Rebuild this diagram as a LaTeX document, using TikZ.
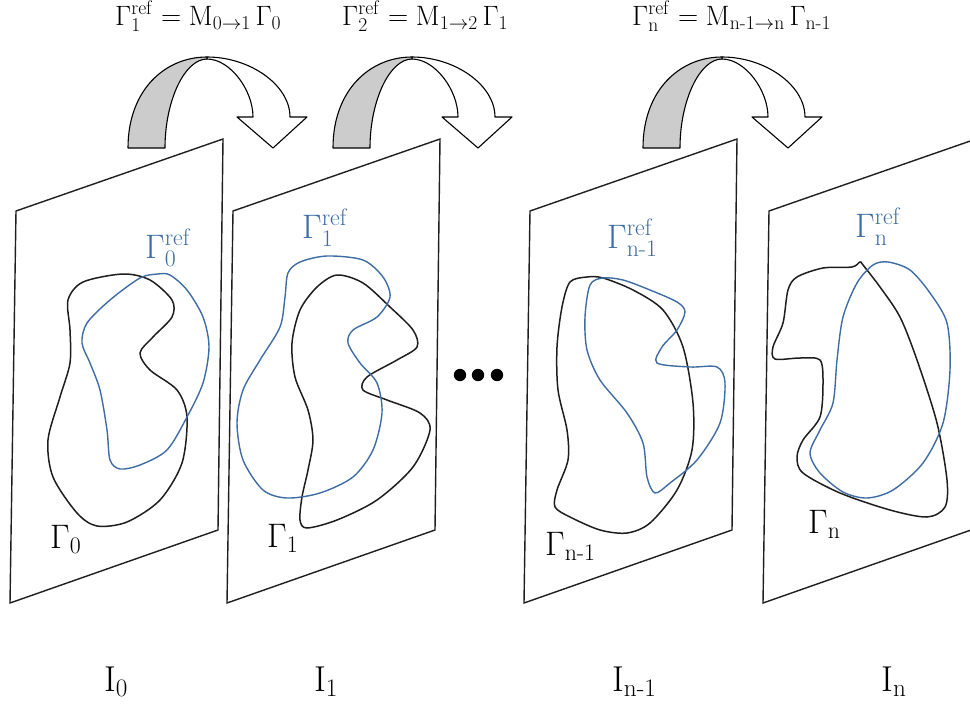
\RequirePackage{fix-cm}
\documentclass[tikz,border=0pt]{standalone}
\usepackage{amsmath}

\definecolor{azulref}{RGB}{62,108,163}
\definecolor{trazo}{RGB}{30,30,30}

\begin{document}
\begin{tikzpicture}[
        x=1pt, y=-1pt,
        plano/.style={draw=trazo, line width=1.4pt},
        contorno/.style={draw=trazo, line width=1.5pt},
        contornoref/.style={draw=azulref, line width=1.4pt},
        flechacurva/.style={draw=black, line width=1.1pt, line join=round},
        etiqueta/.style={inner sep=0pt, anchor=base west, font=\fontsize{34}{40}\selectfont},
        ecuacion/.style={inner sep=0pt, anchor=base west, font=\fontsize{28}{32}\selectfont},
        imagen/.style={inner sep=0pt, anchor=base west, font=\fontsize{36}{40}\selectfont}
    ]
        \useasboundingbox (0,0) rectangle (970,707);
        \clip (0,0) rectangle (970,707);

        % flechas curvas entre imagenes
        \foreach \dx in {0,205,515} {
            \begin{scope}[shift={(\dx,0)}]
                \draw[flechacurva, fill=white] (207,57) .. controls (250,57) and (290,85) .. (290,117)
                    -- (307,117) -- (273,148) -- (237,117) -- (253,117)
                    .. controls (253,90) and (230,59) .. (207,59) -- cycle;
                \draw[flechacurva, fill=gray!40] (128,148) .. controls (128,90) and (165,57) .. (207,57)
                    -- (207,59) .. controls (185,59) and (165,100) .. (165,148) -- cycle;
            \end{scope}
        }

        % planos de imagen
        \foreach \dx in {16,233,530,769}
            \draw[plano, shift={(\dx,0)}] (0,211) -- (207,139) -- (202,530) -- (-6,603) -- cycle;

        % contornos en I_0
        \draw[contorno] plot[smooth cycle] coordinates {(123,274) (83,282) (68,300) (70,330) (70,363) (60,397)
            (48,440) (53,477) (77,513) (97,526) (127,522) (160,500) (182,463) (187,417) (177,390) (150,370)
            (140,353) (153,337) (172,317) (172,300) (150,280)};
        \draw[contornoref] plot[smooth cycle] coordinates {(158,274) (140,278) (110,300) (87,323) (82,343) (90,363)
            (100,390) (107,430) (110,460) (120,469) (140,465) (167,450) (187,417) (203,383) (209,347) (203,317)
            (187,290) (170,275)};

        % contornos en I_1
        \draw[contorno] plot[smooth cycle] coordinates {(337,275) (317,287) (300,310) (292,343) (295,377) (308,410)
            (313,440) (308,470) (302,497) (300,520) (307,528) (337,520) (377,500) (413,467) (430,430) (420,413)
            (387,400) (363,390) (367,377) (397,360) (417,347) (413,330) (390,307) (363,283)};
        \draw[contornoref] plot[smooth cycle] coordinates {(327,256) (300,262) (288,273) (285,297) (280,327) (260,360)
            (243,390) (237,423) (243,460) (263,490) (287,498) (320,493) (353,477) (373,450) (382,413) (377,383)
            (360,363) (348,343) (353,330) (377,317) (390,297) (383,277) (363,260)};

        % contornos en I_{n-1}
        \draw[contorno] plot[smooth cycle] coordinates {(587,277) (570,282) (562,307) (557,347) (558,390) (567,430)
            (568,460) (557,490) (555,507) (570,517) (600,530) (627,533) (650,523) (677,490) (692,450) (693,403)
            (683,347) (663,310) (633,290) (603,278)};
        \draw[contornoref] plot[smooth cycle] coordinates {(603,278) (590,285) (585,317) (587,350) (600,380) (627,413)
            (643,443) (647,477) (655,493) (670,483) (697,460) (720,423) (725,383) (717,367) (690,367) (657,363)
            (662,347) (677,330) (685,312) (677,302) (650,290) (623,280)};

        % contornos en I_n
        \draw[contorno] plot[smooth cycle] coordinates {(860,262) (852,267) (823,268) (797,277) (788,290) (783,323)
            (773,347) (775,359) (800,358) (820,360) (823,383) (820,417) (803,440) (797,457) (803,473) (840,493)
            (890,510) (927,517) (945,507) (947,480) (937,423) (917,360) (900,317) (880,287) (863,265)};
        \draw[contornoref] plot[smooth cycle] coordinates {(888,262) (873,265) (857,283) (843,317) (837,360) (833,403)
            (820,430) (810,453) (820,473) (843,492) (867,498) (893,490) (923,463) (943,423) (950,370) (947,323)
            (930,293) (910,270)};

        % puntos suspensivos
        \foreach \x in {460,478,497}
            \fill (\x,375) circle[radius=6.2pt];

        % etiquetas de referencia
        \node[etiqueta, text=azulref] (ref-0) at (145,258) {$\Gamma_0^{\mathrm{ref}}$};
        \node[etiqueta, text=azulref] (ref-1) at (302,238) {$\Gamma_1^{\mathrm{ref}}$};
        \node[etiqueta, text=azulref] (ref-n1) at (607,248) {$\Gamma_{\text{n-1}}^{\mathrm{ref}}$};
        \node[etiqueta, text=azulref] (ref-n) at (855,237) {$\Gamma_{\mathrm{n}}^{\mathrm{ref}}$};

        % etiquetas de contornos
        \node[etiqueta] (gamma-0) at (50,548) {$\Gamma_0$};
        \node[etiqueta] (gamma-1) at (267,547) {$\Gamma_1$};
        \node[etiqueta] (gamma-n1) at (545,555) {$\Gamma_{\text{n-1}}$};
        \node[etiqueta] (gamma-n) at (808,533) {$\Gamma_{\mathrm{n}}$};

        % ecuaciones de propagacion
        \node[ecuacion] (eq-1) at (115,25) {$\Gamma_1^{\mathrm{ref}} = \mathrm{M}_{0\rightarrow 1}\,\Gamma_0$};
        \node[ecuacion] (eq-2) at (342,25) {$\Gamma_2^{\mathrm{ref}} = \mathrm{M}_{1\rightarrow 2}\,\Gamma_1$};
        \node[ecuacion] (eq-n) at (632,25) {$\Gamma_{\mathrm{n}}^{\mathrm{ref}} = \mathrm{M}_{\text{n-1}\rightarrow \mathrm{n}}\,\Gamma_{\text{n-1}}$};

        % nombres de imagenes
        \node[imagen] (img-0) at (104,691) {$\mathrm{I}_0$};
        \node[imagen] (img-1) at (314,691) {$\mathrm{I}_1$};
        \node[imagen] (img-n1) at (612,691) {$\mathrm{I}_{\text{n-1}}$};
        \node[imagen] (img-n) at (881,691) {$\mathrm{I}_{\mathrm{n}}$};
    \end{tikzpicture}
\end{document}
